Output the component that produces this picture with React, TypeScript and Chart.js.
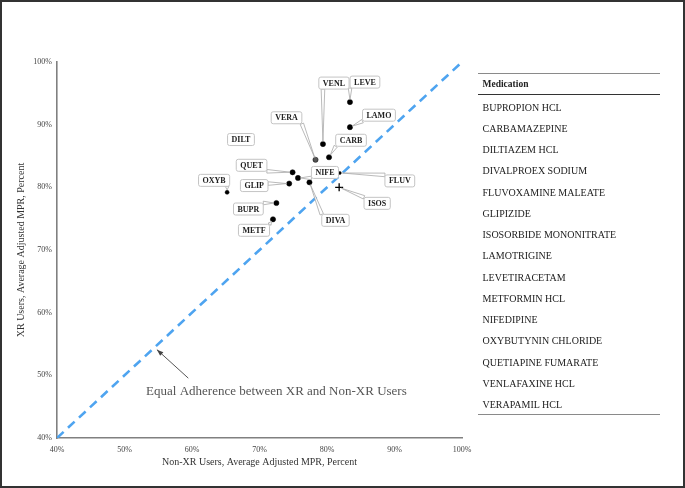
import React, { useEffect, useRef } from 'react';
import { Chart, registerables } from 'chart.js';
Chart.register(...registerables);

// ---- data ----
const medCodes = ['BUPR', 'CARB', 'DILT', 'DIVA', 'FLUV', 'GLIP', 'ISOS', 'LAMO', 'LEVE', 'METF', 'NIFE', 'OXYB', 'QUET', 'VENL', 'VERA'];
const nonXrMpr = [72.5, 80.3, 79.7, 77.4, 81.9, 74.4, 81.8, 83.4, 83.4, 72.0, 75.7, 65.2, 74.9, 79.4, 78.3];
const xrMpr = [77.5, 84.8, 82.6, 80.8, 82.3, 80.6, 80.0, 89.6, 93.6, 74.9, 81.5, 79.2, 82.4, 86.9, 84.4];
const medicationNames = [
  'BUPROPION HCL', 'CARBAMAZEPINE', 'DILTIAZEM HCL', 'DIVALPROEX SODIUM', 'FLUVOXAMINE MALEATE',
  'GLIPIZIDE', 'ISOSORBIDE MONONITRATE', 'LAMOTRIGINE', 'LEVETIRACETAM', 'METFORMIN HCL',
  'NIFEDIPINE', 'OXYBUTYNIN CHLORIDE', 'QUETIAPINE FUMARATE', 'VENLAFAXINE HCL', 'VERAPAMIL HCL',
];
const equalLineX = [40, 100];
const equalLineY = [40, 100];
const axisMin = 40;
const axisMax = 100;
const axisStep = 10;
const annotationText = 'Equal Adherence between XR and Non-XR Users';
const xTitle = 'Non-XR Users, Average Adjusted MPR, Percent';
const yTitle = 'XR Users, Average Adjusted MPR, Percent';
const tableHeader = 'Medication';

// ---- style / layout (not data) ----
const labelOffsets: [number, number][] = [
  [-28, 6], [22, -17], [-84, -31.5], [26, 38], [60, 8], [-35, 2], [38, 16], [29, -12],
  [15, -20], [-19, 11], [27, -5.5], [-13, -12], [-41, -7], [11, -61], [-29, -42],
];
const hasLeader = medCodes.map((c) => c !== 'DILT');
const pointStyles = medCodes.map((c) => (c === 'ISOS' ? 'cross' : 'circle'));
const pointRadii = medCodes.map((c) => (c === 'ISOS' ? 4 : c === 'FLUV' ? 1.5 : c === 'OXYB' ? 2 : 2.6));
const pointFills = medCodes.map((c) => (c === 'VERA' ? '#555' : '#000'));
const SERIF = '"Liberation Serif", "Times New Roman", serif';

const labelPlugin = {
  id: 'labelPlugin',
  afterDatasetsDraw(chart: any) {
    const ctx = chart.ctx as CanvasRenderingContext2D;
    const meta = chart.getDatasetMeta(0);
    const xs = chart.scales.x;
    const ys = chart.scales.y;
    ctx.save();
    ctx.font = `bold 8px ${SERIF}`;
    meta.data.forEach((el: any, i: number) => {
      const px = el.x, py = el.y;
      const [dx, dy] = labelOffsets[i];
      const cx = px + dx, cy = py + dy;
      const tw = ctx.measureText(medCodes[i]).width;
      const w = tw + 8, h = 12;
      const l = cx - w / 2, t = cy - h / 2, r = cx + w / 2, b = cy + h / 2;
      if (hasLeader[i]) {
        const ax = Math.min(Math.max(px, l), r);
        const ay = Math.min(Math.max(py, t), b);
        let vx = ax - px, vy = ay - py;
        const len = Math.hypot(vx, vy) || 1;
        vx /= len; vy /= len;
        const tipx = px + vx * 2.5, tipy = py + vy * 2.5;
        const nx = -vy * 1.8, ny = vx * 1.8;
        ctx.beginPath();
        ctx.moveTo(tipx, tipy);
        ctx.lineTo(ax + nx, ay + ny);
        ctx.lineTo(ax - nx, ay - ny);
        ctx.closePath();
        ctx.fillStyle = '#fff';
        ctx.fill();
        ctx.strokeStyle = '#a8a8a8';
        ctx.lineWidth = 0.8;
        ctx.stroke();
      }
      ctx.beginPath();
      (ctx as any).roundRect(l, t, w, h, 2);
      ctx.fillStyle = '#fff';
      ctx.fill();
      ctx.strokeStyle = '#c4c4c4';
      ctx.lineWidth = 1;
      ctx.stroke();
      ctx.fillStyle = '#222';
      ctx.textAlign = 'center';
      ctx.textBaseline = 'middle';
      ctx.fillText(medCodes[i], cx, cy + 0.5);
    });

    // annotation arrow + text
    const tipX = xs.getPixelForValue(54.8), tipY = ys.getPixelForValue(54.1);
    const tailX = xs.getPixelForValue(59.45), tailY = ys.getPixelForValue(49.55);
    ctx.strokeStyle = '#555';
    ctx.lineWidth = 1;
    ctx.beginPath();
    ctx.moveTo(tailX, tailY);
    ctx.lineTo(tipX, tipY);
    ctx.stroke();
    const ang = Math.atan2(tipY - tailY, tipX - tailX);
    ctx.beginPath();
    ctx.moveTo(tipX, tipY);
    ctx.lineTo(tipX - 7 * Math.cos(ang - 0.35), tipY - 7 * Math.sin(ang - 0.35));
    ctx.lineTo(tipX - 7 * Math.cos(ang + 0.35), tipY - 7 * Math.sin(ang + 0.35));
    ctx.closePath();
    ctx.fillStyle = '#444';
    ctx.fill();
    ctx.font = `13px ${SERIF}`;
    ctx.fillStyle = '#555';
    ctx.textAlign = 'left';
    ctx.textBaseline = 'middle';
    ctx.fillText(annotationText, xs.getPixelForValue(53.2), ys.getPixelForValue(47.4));

    // axis titles
    const area = chart.chartArea;
    ctx.font = `10px ${SERIF}`;
    ctx.fillStyle = '#333';
    ctx.textAlign = 'center';
    ctx.fillText(xTitle, (area.left + area.right) / 2, area.bottom + 24);
    ctx.save();
    ctx.translate(21, (area.top + area.bottom) / 2);
    ctx.rotate(-Math.PI / 2);
    ctx.fillText(yTitle, 0, 0);
    ctx.restore();
    ctx.restore();
  },
};

export default function App() {
  const ref = useRef<HTMLCanvasElement>(null);
  useEffect(() => {
    const points = medCodes.map((_, i) => ({ x: nonXrMpr[i], y: xrMpr[i] }));
    const line = equalLineX.map((x, i) => ({ x, y: equalLineY[i] }));
    const tickFmt = (v: any) => `${v}%`;
    const chart = new Chart(ref.current!, {
      type: 'scatter',
      data: {
        datasets: [
          {
            data: points,
            order: 0,
            pointStyle: pointStyles as any,
            pointRadius: pointRadii,
            backgroundColor: pointFills,
            borderColor: '#000',
            borderWidth: medCodes.map((c) => (c === 'ISOS' ? 1.3 : 0.5)),
          },
          {
            data: line,
            type: 'line',
            order: 1,
            showLine: true,
            pointRadius: 0,
            borderColor: '#4ea4f0',
            borderWidth: 2.6,
            borderDash: [9, 6],
            fill: false,
          } as any,
        ],
      },
      options: {
        responsive: false,
        animation: false,
        devicePixelRatio: 1,
        layout: { padding: { left: 0, top: 62, right: 223, bottom: 0 } },
        plugins: { legend: { display: false }, tooltip: { enabled: false } },
        scales: {
          x: {
            type: 'linear',
            min: axisMin,
            max: axisMax,
            afterFit: (s: any) => { s.height = 50; },
            grid: { display: false, drawTicks: false },
            border: { display: true, color: '#808080', width: 1.6 },
            ticks: { stepSize: axisStep, callback: tickFmt, color: '#444', font: { family: SERIF, size: 8 }, padding: 7, maxRotation: 0 },
          },
          y: {
            type: 'linear',
            min: axisMin,
            max: axisMax,
            afterFit: (s: any) => { s.width = 57; },
            grid: { display: false, drawTicks: false },
            border: { display: true, color: '#808080', width: 1.6 },
            ticks: { stepSize: axisStep, callback: tickFmt, color: '#444', font: { family: SERIF, size: 8 }, padding: 5 },
          },
        },
      },
      plugins: [labelPlugin],
    });
    return () => chart.destroy();
  }, []);

  const rowTop = 107.7;
  const rowStep = 21.24;
  return (
    <div style={{ position: 'fixed', left: 0, top: 0, width: 685, height: 488, background: '#fff' }}>
      <canvas ref={ref} width={685} height={488} style={{ position: 'absolute', left: 0, top: 0, width: 685, height: 488 }} />
      <div style={{ position: 'absolute', left: 478, top: 72.5, width: 182, height: 0, borderTop: '1.5px solid #8a8a8a' }} />
      <div style={{ position: 'absolute', left: 482.5, top: 79, height: 12, lineHeight: '12px', font: `bold 9.5px ${SERIF}`, color: '#222', whiteSpace: 'nowrap' }}>{tableHeader}</div>
      <div style={{ position: 'absolute', left: 478, top: 94, width: 182, height: 0, borderTop: '1px solid #333' }} />
      {medicationNames.map((n, i) => (
        <div key={n} style={{ position: 'absolute', left: 482.5, top: rowTop + i * rowStep - 6, height: 12, lineHeight: '12px', font: `10px ${SERIF}`, color: '#222', whiteSpace: 'nowrap' }}>{n}</div>
      ))}
      <div style={{ position: 'absolute', left: 478, top: 413.5, width: 182, height: 0, borderTop: '1.5px solid #8a8a8a' }} />
      <div style={{ position: 'absolute', left: 0, top: 0, width: 685, height: 488, boxSizing: 'border-box', border: '2px solid #333', pointerEvents: 'none' }} />
    </div>
  );
}
